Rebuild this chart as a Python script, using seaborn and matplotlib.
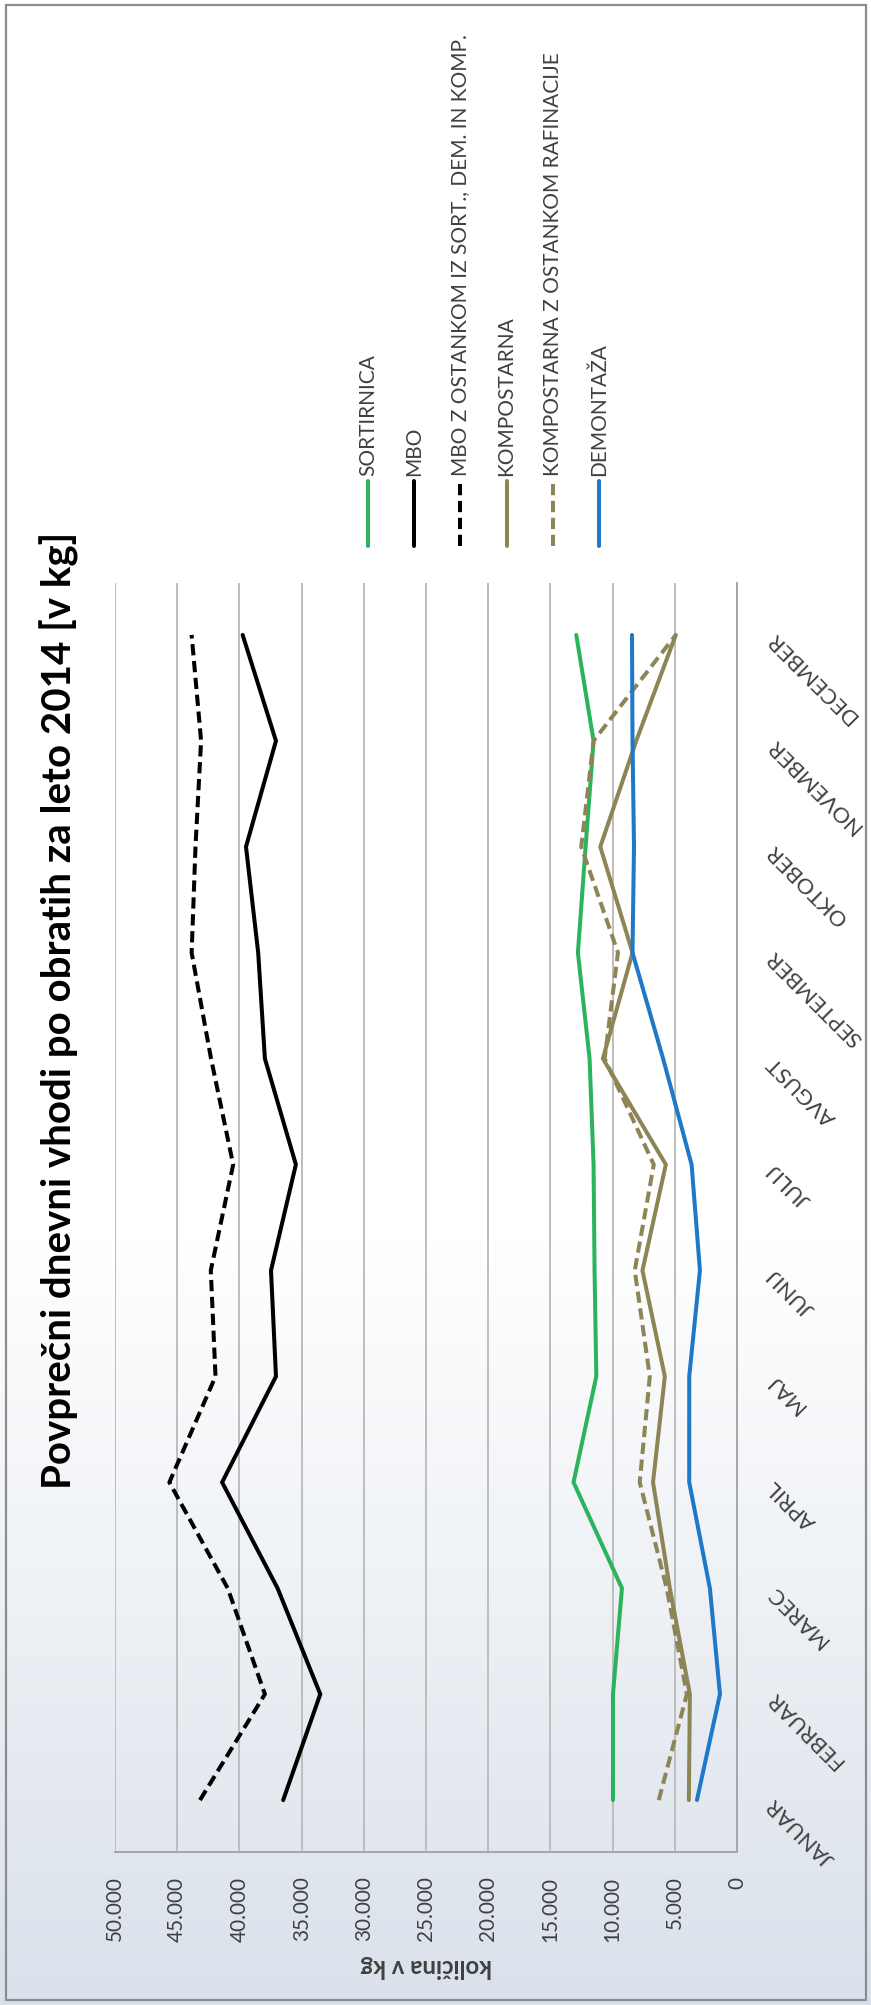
import numpy as np
import pandas as pd
import seaborn as sns
import matplotlib.pyplot as plt
from matplotlib.lines import Line2D
from matplotlib.patches import Rectangle

# ---- data ----
months = ["JANUAR", "FEBRUAR", "MAREC", "APRIL", "MAJ", "JUNIJ",
          "JULIJ", "AVGUST", "SEPTEMBER", "OKTOBER", "NOVEMBER", "DECEMBER"]

sortirnica = [9970, 9970, 9250, 13140, 11310, 11450, 11530, 11850, 12790, 12170, 11530, 12920]
mbo = [36480, 33500, 36930, 41390, 37060, 37460, 35460, 37950, 38490, 39470, 37060, 39740]
mbo_ostanek = [43170, 37950, 40940, 45630, 41920, 42300, 40500, 42280, 43840, 43530, 43080, 43840]
kompostarna = [3870, 3790, 5400, 6750, 5800, 7600, 5720, 10780, 8400, 10990, 8100, 4920]
kompostarna_raf = [6290, 4030, 5650, 7820, 7010, 8220, 6690, 10640, 9570, 12520, 11530, 4920]
demontaza = [3220, 1370, 2180, 3840, 3840, 2980, 3650, 5940, 8400, 8280, 8400, 8440]

series_names = ["SORTIRNICA", "MBO", "MBO Z OSTANKOM IZ SORT., DEM. IN KOMP.",
                "KOMPOSTARNA", "KOMPOSTARNA Z OSTANKOM RAFINACIJE", "DEMONTAŽA"]
series_values = [sortirnica, mbo, mbo_ostanek, kompostarna, kompostarna_raf, demontaza]

value_ticks = [0, 5000, 10000, 15000, 20000, 25000, 30000, 35000, 40000, 45000, 50000]
value_labels = ["0", "5.000", "10.000", "15.000", "20.000", "25.000",
                "30.000", "35.000", "40.000", "45.000", "50.000"]

title = "Povprečni dnevni vhodi po obratih za leto 2014 [v kg]"
value_axis_title = "količina v kg"

# ---- styles ----
GREEN = "#2bb45c"
BLACK = "#000000"
OLIVE = "#8e8556"
BLUE = "#1f78c8"
TEXT = "#404040"
colors = [GREEN, BLACK, BLACK, OLIVE, OLIVE, BLUE]
dashed = [False, False, True, False, True, False]
DASH = (2.8, 1.4)
LW = 2.9

sns.set_theme(style="white")
plt.rcParams["font.family"] = ["Lato", "DejaVu Sans"]

W, H = 871, 2006
fig = plt.figure(figsize=(W / 100, H / 100), dpi=100)
renderer = fig.canvas.get_renderer()


def fit_size(text, target_px, weight="normal", base=20.0):
    # font size that makes `text` about target_px long
    t = fig.text(0, 0, text, fontsize=base, fontweight=weight)
    w = t.get_window_extent(renderer).width
    t.remove()
    return base * target_px / w


title_fs = fit_size(title, 957, "bold")
legend_fs = fit_size(series_names[2], 441)
tick_fs = fit_size("50.000", 65)
month_fs = fit_size("SEPTEMBER", 125)
xlabel_fs = fit_size(value_axis_title, 131, "bold")

# background gradient (white top -> light blue-gray bottom)
bg = fig.add_axes([0, 0, 1, 1], zorder=-5)
rows = np.linspace(0, 1, 400)  # 0 = bottom, 1 = top
t = np.clip((1 - rows - 0.62) / 0.38, 0, 1)
top_c = np.array([1.0, 1.0, 1.0])
bot_c = np.array([0.855, 0.882, 0.918])
grad = (1 - t)[:, None] * top_c + t[:, None] * bot_c
bg.imshow(grad[:, None, :], aspect="auto", extent=[0, 1, 0, 1], origin="lower")
bg.set_axis_off()
fig.add_artist(Rectangle((6 / W, 5 / H), 1 - 11 / W, 1 - 11 / H,
                         transform=fig.transFigure, fill=False,
                         edgecolor="#8c8c8c", lw=1.6))

# plot area (value axis horizontal, months vertical)
ax = fig.add_axes([115 / W, 1 - 1853 / H, (737 - 115) / W, (1853 - 584) / H])
ax.set_facecolor("none")

month_idx = np.arange(len(months))
for name, vals, c, d in zip(series_names, series_values, colors, dashed):
    df = pd.DataFrame({"value": vals, "month": month_idx})
    sns.lineplot(data=df, x="value", y="month", orient="y", sort=False,
                 color=c, lw=LW, ax=ax, estimator=None)
    line = ax.get_lines()[-1]
    line.set_solid_capstyle("round")
    line.set_solid_joinstyle("miter")
    if d:
        line.set_dashes(DASH)
        line.set_dash_capstyle("butt")

ax.set_xlim(50000, 0)
ax.set_ylim(-0.49, 11.49)

ax.set_xticks(value_ticks, value_labels)
ax.tick_params(axis="x", rotation=90, pad=17, length=0, labelsize=tick_fs,
               labelcolor=TEXT)
ax.grid(axis="x", color="#bdbdbd", lw=1.4)
ax.grid(axis="y", visible=False)

ax.yaxis.tick_right()
ax.set_yticks(month_idx, months)
ax.tick_params(axis="y", length=0, pad=24, labelsize=month_fs, labelcolor=TEXT)
for lbl in ax.get_yticklabels():
    lbl.set_rotation(135)
    lbl.set_rotation_mode("anchor")
    lbl.set_ha("right")
    lbl.set_va("center")

for side in ["top", "left"]:
    ax.spines[side].set_visible(False)
for side in ["right", "bottom"]:
    ax.spines[side].set_color("#a6a6a6")
    ax.spines[side].set_linewidth(1.4)

ax.set_xlabel(value_axis_title, rotation=180, fontsize=xlabel_fs,
              fontweight="bold", color=TEXT)
ax.xaxis.set_label_coords(0.5, -(1967 - 1853) / (1853 - 584))
ax.xaxis.label.set_va("center")
ax.set_ylabel("")

# title
fig.text(59 / W, 1 - 1010 / H, title, rotation=90, ha="center", va="center",
         fontsize=title_fs, fontweight="bold", color="#000000")

# legend (drawn rotated, one vertical sample per series)
leg_x0, leg_dx = 368, 46.2
for i, (name, c, d) in enumerate(zip(series_names, colors, dashed)):
    x = (leg_x0 + i * leg_dx) / W
    l = Line2D([x, x], [1 - 547 / H, 1 - 482 / H], transform=fig.transFigure,
               color=c, lw=LW, solid_capstyle="round")
    if d:
        l.set_dashes(DASH)
    fig.add_artist(l)
    fig.text(x, 1 - 476 / H, name, rotation=90, ha="center", va="bottom",
             fontsize=legend_fs, color=TEXT)

fig.savefig("out.png", dpi=100)
